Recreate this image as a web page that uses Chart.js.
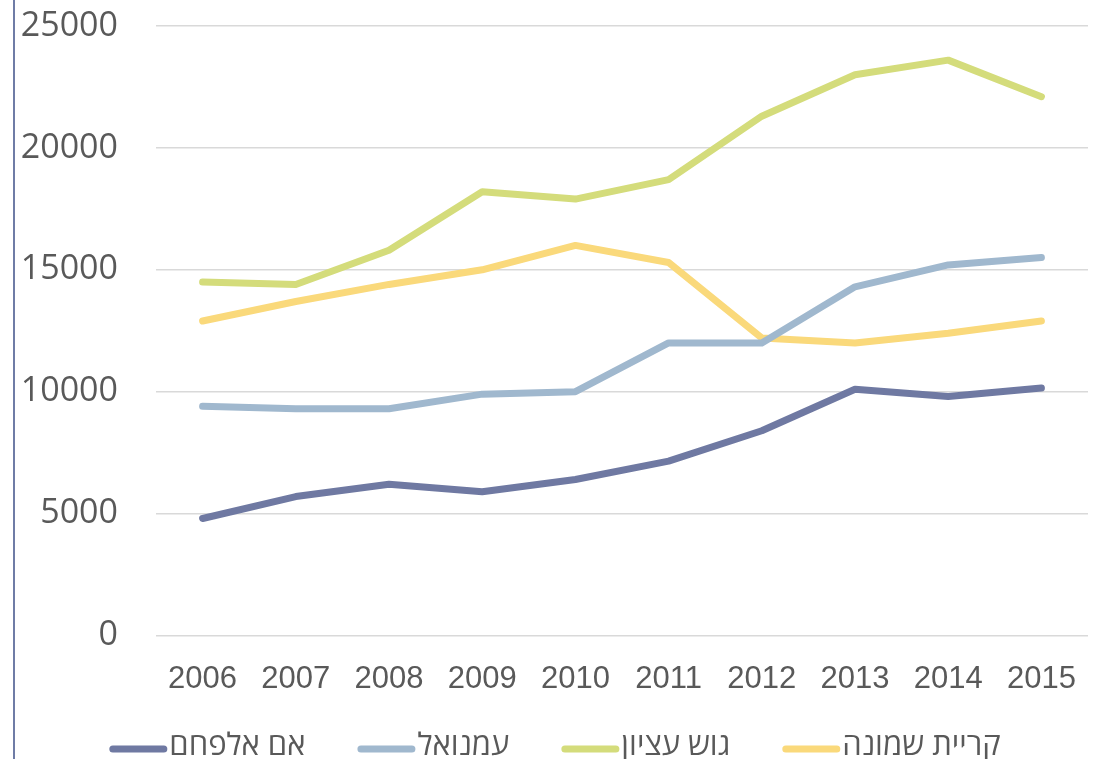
<!DOCTYPE html>
<html>
<head>
<meta charset="utf-8">
<script src="https://cdn.jsdelivr.net/npm/chart.js@4.4.1/dist/chart.umd.min.js"></script>
<style>
  html, body { margin: 0; padding: 0; background: #ffffff; }
  #wrap { position: relative; width: 1102px; height: 759px; }
  #edge { position: absolute; left: 13px; top: 0; width: 2px; height: 759px; background: #6f7ca6; }
  canvas { position: absolute; left: 0; top: 0; }
</style>
</head>
<body>
<div id="wrap">
  <canvas id="c" width="1102" height="759"></canvas>
  <div id="edge"></div>
</div>
<script>
const categories = ['2006','2007','2008','2009','2010','2011','2012','2013','2014','2015'];
const seriesNames = ['אם אלפחם', 'עמנואל', 'גוש עציון', 'קריית שמונה'];
const ummAlFahm   = [4800, 5700, 6200, 5900, 6400, 7150, 8400, 10100, 9800, 10150];
const emmanuel    = [9400, 9300, 9300, 9900, 10000, 12000, 12000, 14300, 15200, 15500];
const gushEtzion  = [14500, 14400, 15800, 18200, 17900, 18700, 21300, 23000, 23600, 22100];
const kiryatShmona = [12900, 13700, 14400, 15000, 16000, 15300, 12200, 12000, 12400, 12900];
const yTicks = [0, 5000, 10000, 15000, 20000, 25000];
const colors = ['#6f79a2', '#a0b8ce', '#d4dc7b', '#fad97b'];

const seriesValues = [ummAlFahm, emmanuel, gushEtzion, kiryatShmona];

const LEGEND_FONT = "31px 'Open Sans', 'DejaVu Sans', sans-serif";

const bottomLegend = {
  id: 'bottomLegend',
  afterDraw(chart) {
    const ctx = chart.ctx;
    const ds = chart.data.datasets;
    const markLen = 51, lw = 7, cap = lw / 2, textGap = 2, itemGap = 52;
    ctx.save();
    ctx.font = LEGEND_FONT;
    const widths = ds.map(d => ctx.measureText(d.label).width);
    let total = 0;
    widths.forEach((w, i) => { total += markLen + 2 * cap + textGap + w + (i < ds.length - 1 ? itemGap : 0); });
    let x = 555 - total / 2;
    const y = 749;
    ds.forEach((d, i) => {
      ctx.strokeStyle = d.borderColor;
      ctx.lineWidth = lw;
      ctx.lineCap = 'round';
      ctx.beginPath();
      ctx.moveTo(x + cap, y);
      ctx.lineTo(x + cap + markLen, y);
      ctx.stroke();
      x += markLen + 2 * cap + textGap;
      ctx.fillStyle = '#595959';
      ctx.textAlign = 'left';
      ctx.textBaseline = 'alphabetic';
      ctx.fillText(d.label, x, 755);
      x += widths[i] + itemGap;
    });
    ctx.restore();
  }
};

function build() {
  const datasets = seriesValues.map((vals, i) => ({
    label: seriesNames[i],
    data: vals,
    borderColor: colors[i],
    backgroundColor: colors[i],
    borderWidth: 7,
    borderCapStyle: 'round',
    borderJoinStyle: 'round',
    pointRadius: 0,
    pointHoverRadius: 0,
    tension: 0,
    fill: false
  }));

  new Chart(document.getElementById('c'), {
    type: 'line',
    data: { labels: categories, datasets },
    plugins: [bottomLegend],
    options: {
      responsive: false,
      animation: false,
      events: [],
      layout: { padding: { left: 0, right: 14, top: 26, bottom: 61.5 } },
      plugins: {
        tooltip: { enabled: false },
        legend: { display: false }
      },
      scales: {
        x: {
          offset: true,
          afterFit: (s) => { s.height = 62; },
          grid: { display: false, drawTicks: false },
          border: { display: false },
          ticks: {
            color: '#595959',
            padding: 25,
            maxRotation: 0,
            font: { family: "'Liberation Sans', Arial, sans-serif", size: 31 }
          }
        },
        y: {
          min: 0,
          max: 25000,
          afterBuildTicks: (s) => { s.ticks = yTicks.map(v => ({ value: v })); },
          afterFit: (s) => { s.width = 156; },
          grid: { color: '#d9d9d9', lineWidth: 1.5, drawTicks: true, tickLength: 38, tickColor: 'rgba(0,0,0,0)' },
          border: { display: false },
          ticks: {
            color: '#595959',
            padding: 0,
            callback: (v) => String(v),
            font: { family: "'Open Sans', sans-serif", size: 34 }
          }
        }
      }
    }
  });
}

Promise.all([
  document.fonts.load("34px 'Open Sans'"),
  document.fonts.load("31px 'Open Sans'", 'אם אלפחם'),
  document.fonts.load("31px 'Liberation Sans'")
]).then(build, build);
</script>
</body>
</html>
